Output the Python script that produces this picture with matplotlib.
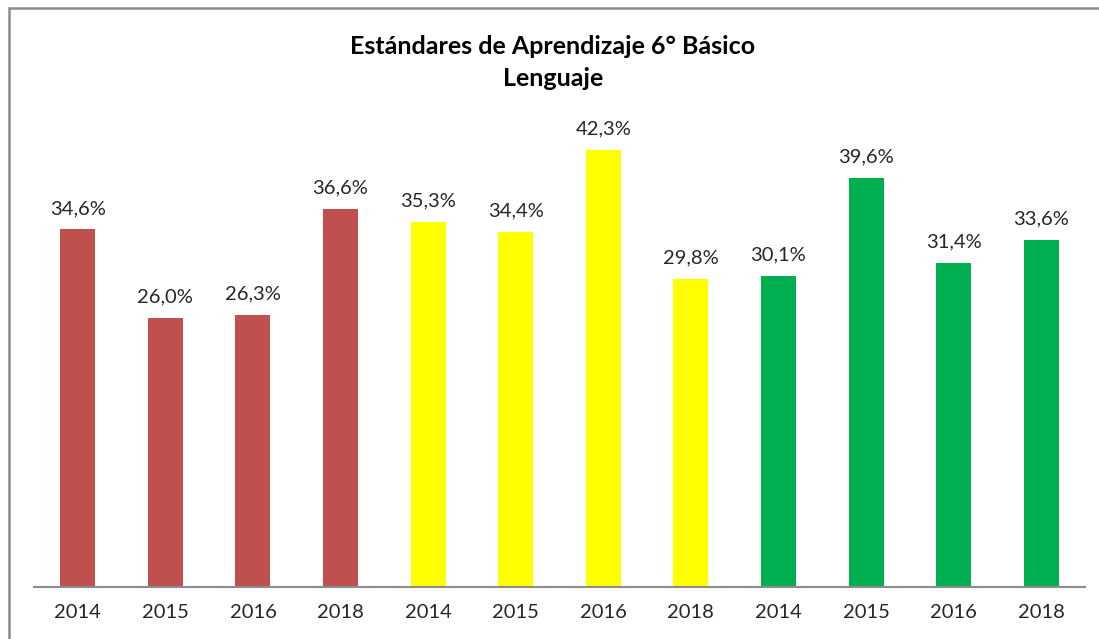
import matplotlib
matplotlib.use('Agg')
import matplotlib.pyplot as plt
from matplotlib.patches import Rectangle

# data
years = ['2014', '2015', '2016', '2018'] * 3
values = [34.6, 26.0, 26.3, 36.6,
          35.3, 34.4, 42.3, 29.8,
          30.1, 39.6, 31.4, 33.6]
colors = ['#C0504D'] * 4 + ['#FFFF00'] * 4 + ['#00B050'] * 4

title1 = 'Estándares de Aprendizaje 6° Básico'
title2 = 'Lenguaje'

plt.rcParams['font.family'] = ['Lato', 'DejaVu Sans']

W, H = 1099, 639
fig = plt.figure(figsize=(W / 100, H / 100), dpi=100)

# chart frame (only left and top edges fall inside the picture)
fig.patches.append(Rectangle((9 / W, -0.2), 1.2, 1.2 - 8 / H,
                             transform=fig.transFigure, fill=False,
                             edgecolor='#8c8c8c', linewidth=1.8))

ax = fig.add_axes([34 / W, 52 / H, (1085 - 34) / W, 465 / H])
x = range(len(values))
bars = ax.bar(x, values, width=0.4, color=colors)

for b, v in zip(bars, values):
    ax.annotate(f'{v:.1f}%'.replace('.', ','),
                (b.get_x() + b.get_width() / 2, v),
                xytext=(0, 9), textcoords='offset points',
                ha='center', va='bottom', fontsize=14.5, color='#262626')

ax.set_xlim(-0.5, len(values) - 0.5)
ax.set_ylim(0, 45)
ax.set_xticks(list(x))
ax.set_xticklabels(years, fontsize=14.5, color='#262626')
ax.tick_params(axis='x', length=0, pad=12)
ax.set_yticks([])
for s in ['top', 'right', 'left']:
    ax.spines[s].set_visible(False)
ax.spines['bottom'].set_color('#8c8c8c')
ax.spines['bottom'].set_linewidth(1.5)

fig.text(553 / W, 1 - 47 / H, title1, ha='center', va='center',
         fontsize=18, fontweight='bold', color='black')
fig.text(553 / W, 1 - 78 / H, title2, ha='center', va='center',
         fontsize=18, fontweight='bold', color='black')

fig.savefig('out.png', dpi=100)
